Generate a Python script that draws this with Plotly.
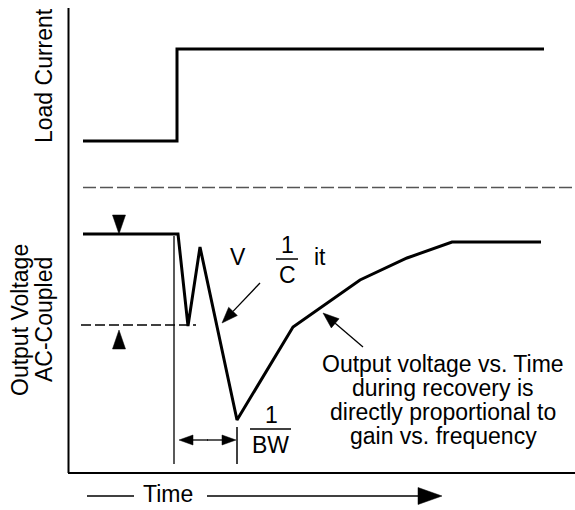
import math
import plotly.graph_objects as go

# ---- data (diagram units: x = time position, y = level, screen-like, top = 0) ----
load_t = [83, 177, 177, 544]
load_v = [141, 141, 49, 49]

vout_t = [83, 178, 188, 200, 237, 293, 360, 407, 452, 541]
vout_v = [234, 234, 326, 247, 420, 327, 280, 258, 242, 242]

axis_left_x = [68.5, 68.5]
axis_left_y = [8, 473]
axis_bottom_x = [68, 575]
axis_bottom_y = [473, 473]

sep_x = [83, 575]
sep_y = [187.5, 187.5]

step_marker_x = [174, 174]
step_marker_y = [236, 464]
dip_level_x = [81, 196]
dip_level_y = [325, 325]
bw_marker_x = [237, 237]
bw_marker_y = [427, 464]

# arrows: (tail_x, tail_y, tip_x, tip_y, head_len, head_w, shaft)
arrows = [
    (119, 214, 119, 234, 19, 13, False),
    (119, 350, 119, 330, 19, 13, False),
    (208, 440, 179, 440, 14, 10, True),
    (207, 440, 236, 440, 14, 10, True),
    (260, 283, 222, 323, 16, 12, True),
    (363, 347, 323, 313, 16, 12, True),
    (207, 496, 442, 496, 24, 17, True),
]
time_dash_x = [87, 134]
time_dash_y = [496, 496]

FONT = "Liberation Sans, Arial, sans-serif"
FS = 23

fig = go.Figure()

def line(x, y, w=1.0, dash=None, color="black"):
    fig.add_trace(go.Scatter(x=x, y=y, mode="lines",
                             line=dict(color=color, width=w, dash=dash),
                             hoverinfo="skip", showlegend=False))

line(axis_left_x, axis_left_y, 2)
line(axis_bottom_x, axis_bottom_y, 2)
line(sep_x, sep_y, 1.4, dash="13px,4px", color="#555")
line(load_t, load_v, 3)
line(vout_t, vout_v, 3)
line(step_marker_x, step_marker_y, 1.3)
line(dip_level_x, dip_level_y, 1.5, dash="10px,4px")
line(bw_marker_x, bw_marker_y, 1.5)
line(time_dash_x, time_dash_y, 1.3)

shapes = []
for tx, ty, hx, hy, hl, hw, shaft in arrows:
    dx, dy = hx - tx, hy - ty
    L = math.hypot(dx, dy)
    ux, uy = dx / L, dy / L
    px, py = -uy, ux
    bx, by = hx - ux * hl, hy - uy * hl
    if shaft:
        line([tx, bx], [ty, by], 1.3)
    path = "M{},{} L{},{} L{},{} Z".format(
        hx, hy, bx + px * hw / 2, by + py * hw / 2, bx - px * hw / 2, by - py * hw / 2)
    shapes.append(dict(type="path", path=path, xref="x", yref="y",
                       fillcolor="black", line=dict(color="black", width=0.5)))

# fraction bars
frac_bars = [(276, 298, 259), (250, 291, 429)]
for x0, x1, y in frac_bars:
    shapes.append(dict(type="line", x0=x0, x1=x1, y0=y, y1=y, xref="x", yref="y",
                       line=dict(color="black", width=1.5)))

texts = [
    ("V", 238, 257, 0),
    ("1", 287, 245, 0),
    ("C", 287, 275, 0),
    ("it", 320, 257, 0),
    ("1", 271, 415, 0),
    ("BW", 270, 445, 0),
    ("Time", 168, 494, 0),
    ("Output voltage vs. Time", 443, 364, 0),
    ("during recovery is", 443, 388, 0),
    ("directly proportional to", 443, 412, 0),
    ("gain vs. frequency", 443, 436, 0),
    ("Load Current", 44, 76, -90),
    ("Output Voltage", 20, 320, -90),
    ("AC-Coupled", 44, 320, -90),
]
annotations = [dict(text=t, x=x, y=y, xref="x", yref="y", showarrow=False,
                    textangle=a, xanchor="center", yanchor="middle",
                    font=dict(family=FONT, size=FS, color="black"))
               for t, x, y, a in texts]

fig.update_layout(
    width=575, height=510, autosize=False,
    margin=dict(l=0, r=0, t=0, b=0),
    paper_bgcolor="white", plot_bgcolor="white",
    xaxis=dict(range=[0, 575], visible=False, fixedrange=True),
    yaxis=dict(range=[510, 0], visible=False, fixedrange=True),
    shapes=shapes, annotations=annotations, showlegend=False,
)

fig.write_html("out.html", post_script="document.body.style.margin='0';",
               config={"displayModeBar": False})
